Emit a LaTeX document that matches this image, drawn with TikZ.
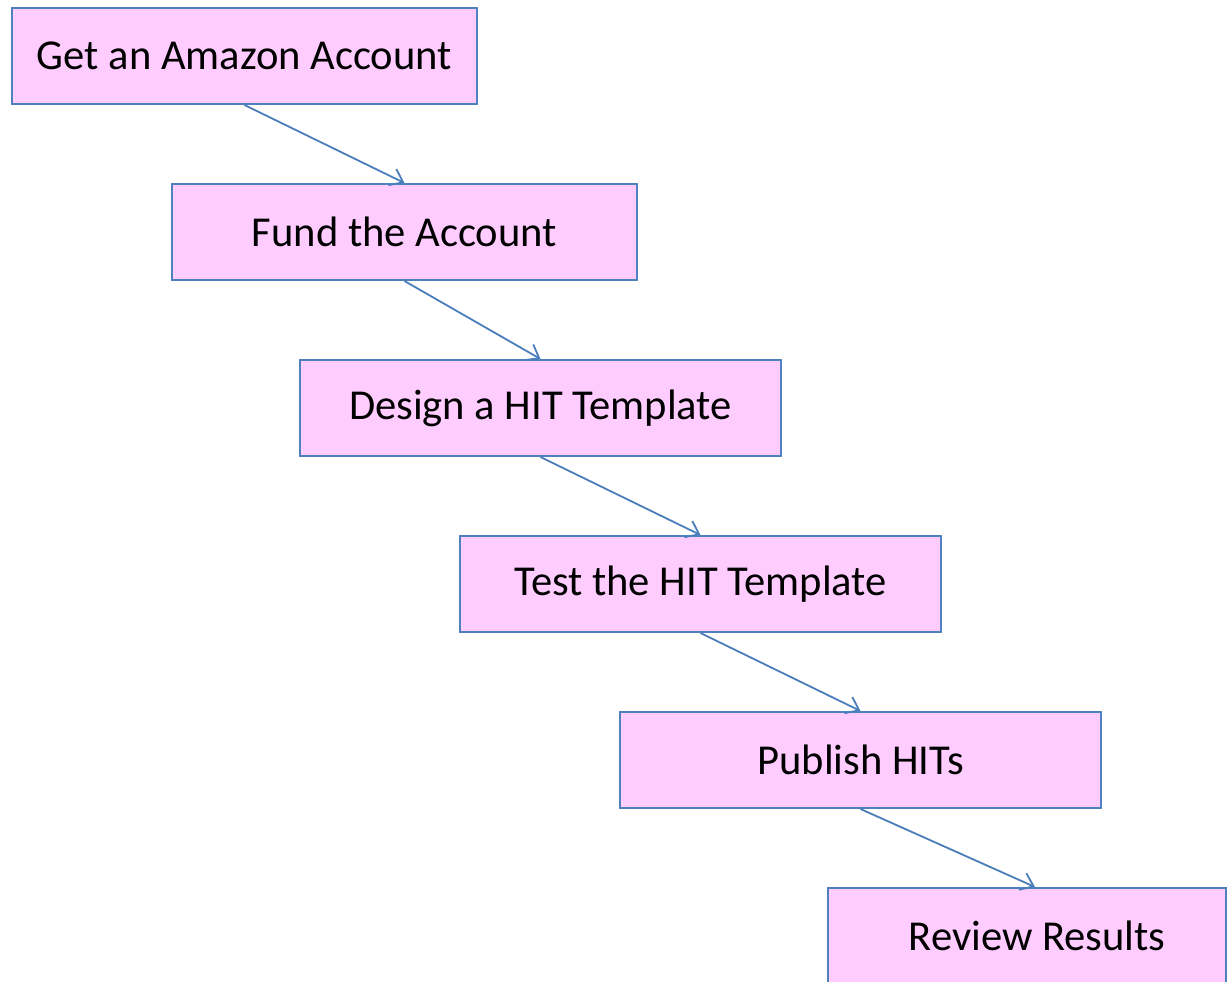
\documentclass[tikz,border=0pt]{standalone}
\usepackage{fontspec}
\setmainfont{Carlito}
\usepackage{xcolor}
\usetikzlibrary{arrows.meta,positioning}
\definecolor{boxpink}{RGB}{255, 204, 255}
\definecolor{boxblue}{RGB}{79, 129, 189}
\definecolor{linkblue}{RGB}{74, 126, 187}

\tikzset{
  stepbox/.style={draw=boxblue, fill=boxpink, line width=1pt, minimum width=240.5pt,
    minimum height=48pt, inner sep=0pt, font=\fontsize{21.3}{25}\selectfont},
  link/.style={draw=linkblue, line width=0.9pt, -{Straight Barb[length=6pt,width=9pt]}}
}

\begin{document}
\begin{tikzpicture}[x=0.5pt, y=-0.5pt]
            \useasboundingbox (0,0) rectangle (1227,981);
            % workflow steps
            \node[stepbox, minimum width=232.5pt] (account) at (244.5,56) {Get an Amazon Account};
            \node[stepbox, minimum width=232.5pt] (fund) at (404.5,232) {Fund the Account};
            \node[stepbox] (design) at (540.5,408) {Design a HIT Template};
            \node[stepbox] (test) at (700.5,584) {Test the HIT Template};
            \node[stepbox] (publish) at (860.5,760) {Publish HITs};
            \node[stepbox, minimum width=199pt] (review) at (1027,936) {\hspace*{10pt}Review Results};
            
            % connecting arrows
            \draw[link] (account.south) -- (fund.north);
            \draw[link] (fund.south) -- (design.north);
            \draw[link] (design.south) -- (test.north);
            \draw[link] (test.south) -- (publish.north);
            \draw[link] (publish.south) -- ([xshift=4pt]review.north);
\end{tikzpicture}
\end{document}
